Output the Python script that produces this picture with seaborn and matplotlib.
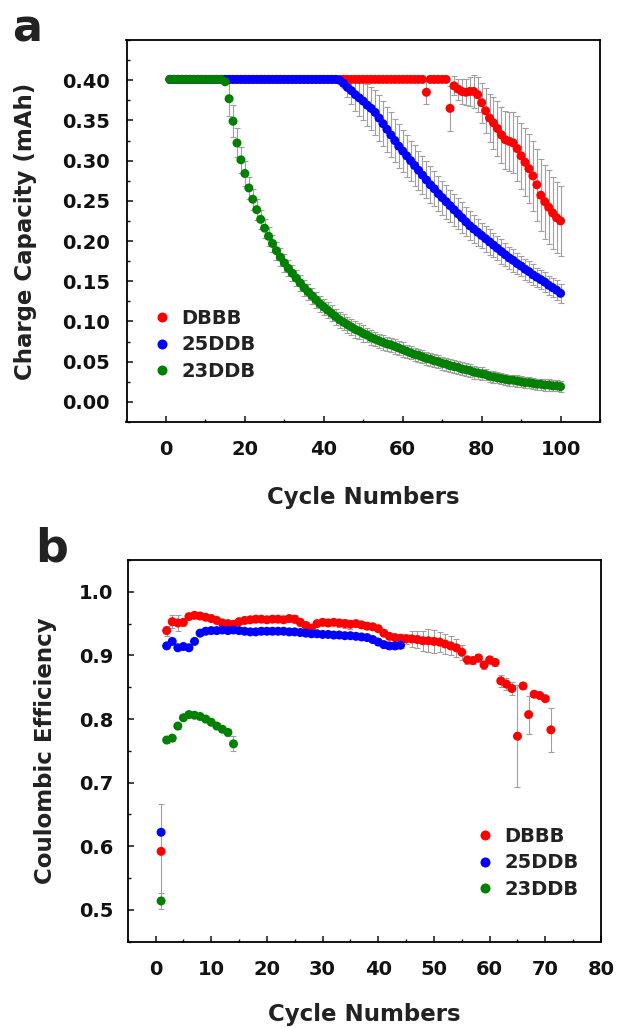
import matplotlib
matplotlib.use("Agg")
import matplotlib.pyplot as plt
import seaborn as sns
import pandas as pd
from matplotlib.ticker import MultipleLocator
from matplotlib.lines import Line2D

samples = ["DBBB", "25DDB", "23DDB"]
palette = {"DBBB": "#ff0000", "25DDB": "#0000ff", "23DDB": "#008000"}

# ---------------- panel a: charge capacity (mAh) ----------------
cycles_a = list(range(1, 101))

dbbb_cap = [
    0.401, 0.401, 0.401, 0.401, 0.401, 0.401, 0.401, 0.401, 0.401, 0.401,
    0.401, 0.401, 0.401, 0.401, 0.401, 0.401, 0.401, 0.401, 0.401, 0.401,
    0.401, 0.401, 0.401, 0.401, 0.401, 0.401, 0.401, 0.401, 0.401, 0.401,
    0.401, 0.401, 0.401, 0.401, 0.401, 0.401, 0.401, 0.401, 0.401, 0.401,
    0.401, 0.401, 0.401, 0.401, 0.401, 0.401, 0.401, 0.401, 0.401, 0.401,
    0.401, 0.401, 0.401, 0.401, 0.401, 0.401, 0.401, 0.401, 0.401, 0.401,
    0.401, 0.401, 0.401, 0.401, 0.401, 0.385, 0.401, 0.401, 0.401, 0.401,
    0.401, 0.365, 0.393, 0.389, 0.386, 0.385, 0.386, 0.386, 0.382, 0.372,
    0.362, 0.353, 0.347, 0.340, 0.332, 0.326, 0.324, 0.322, 0.315, 0.306,
    0.298, 0.290, 0.281, 0.270, 0.257, 0.249, 0.242, 0.235, 0.229, 0.225,
]
dbbb_err = [
    0, 0, 0, 0, 0, 0, 0, 0, 0, 0,
    0, 0, 0, 0, 0, 0, 0, 0, 0, 0,
    0, 0, 0, 0, 0, 0, 0, 0, 0, 0,
    0, 0, 0, 0, 0, 0, 0, 0, 0, 0,
    0, 0, 0, 0, 0, 0, 0, 0, 0, 0,
    0, 0, 0, 0, 0, 0, 0, 0, 0, 0,
    0, 0, 0, 0, 0, 0.015, 0, 0, 0, 0,
    0, 0.028, 0.012, 0.013, 0.015, 0.016, 0.018, 0.020, 0.022, 0.025,
    0.028, 0.030, 0.032, 0.034, 0.035, 0.036, 0.037, 0.038, 0.040, 0.041,
    0.042, 0.043, 0.044, 0.045, 0.045, 0.046, 0.046, 0.045, 0.044, 0.043,
]

ddb25_cap = [
    0.401, 0.401, 0.401, 0.401, 0.401, 0.401, 0.401, 0.401, 0.401, 0.401,
    0.401, 0.401, 0.401, 0.401, 0.401, 0.401, 0.401, 0.401, 0.401, 0.401,
    0.401, 0.401, 0.401, 0.401, 0.401, 0.401, 0.401, 0.401, 0.401, 0.401,
    0.401, 0.401, 0.401, 0.401, 0.401, 0.401, 0.401, 0.401, 0.401, 0.401,
    0.401, 0.401, 0.401, 0.400, 0.396, 0.391, 0.387, 0.382, 0.378, 0.374,
    0.369, 0.365, 0.360, 0.353, 0.346, 0.339, 0.332, 0.325, 0.318, 0.312,
    0.306, 0.300, 0.294, 0.288, 0.282, 0.276, 0.270, 0.265, 0.259, 0.254,
    0.249, 0.244, 0.239, 0.234, 0.229, 0.224, 0.219, 0.215, 0.211, 0.207,
    0.203, 0.199, 0.195, 0.191, 0.187, 0.183, 0.179, 0.176, 0.172, 0.169,
    0.165, 0.162, 0.158, 0.155, 0.152, 0.149, 0.145, 0.142, 0.139, 0.135,
]
ddb25_err = [
    0, 0, 0, 0, 0, 0, 0, 0, 0, 0,
    0, 0, 0, 0, 0, 0, 0, 0, 0, 0,
    0, 0, 0, 0, 0, 0, 0, 0, 0, 0,
    0, 0, 0, 0, 0, 0, 0, 0, 0, 0,
    0, 0, 0, 0, 0.006, 0.012, 0.016, 0.020, 0.022, 0.024,
    0.026, 0.027, 0.028, 0.028, 0.028, 0.028, 0.028, 0.027, 0.027, 0.026,
    0.026, 0.025, 0.025, 0.024, 0.024, 0.023, 0.023, 0.022, 0.022, 0.021,
    0.021, 0.020, 0.020, 0.019, 0.019, 0.018, 0.018, 0.017, 0.017, 0.016,
    0.016, 0.016, 0.015, 0.015, 0.015, 0.014, 0.014, 0.014, 0.013, 0.013,
    0.013, 0.013, 0.013, 0.012, 0.012, 0.012, 0.012, 0.012, 0.012, 0.012,
]

ddb23_cap = [
    0.401, 0.401, 0.401, 0.401, 0.401, 0.401, 0.401, 0.401, 0.401, 0.401,
    0.401, 0.401, 0.401, 0.401, 0.398, 0.377, 0.349, 0.322, 0.301, 0.284,
    0.266, 0.252, 0.239, 0.227, 0.216, 0.206, 0.197, 0.188, 0.180, 0.173,
    0.166, 0.160, 0.154, 0.148, 0.142, 0.137, 0.132, 0.127, 0.122, 0.118,
    0.114, 0.110, 0.106, 0.102, 0.099, 0.096, 0.093, 0.090, 0.088, 0.085,
    0.083, 0.080, 0.078, 0.076, 0.074, 0.072, 0.071, 0.069, 0.067, 0.065,
    0.063, 0.061, 0.059, 0.058, 0.056, 0.054, 0.053, 0.051, 0.050, 0.048,
    0.047, 0.045, 0.044, 0.043, 0.041, 0.040, 0.039, 0.037, 0.036, 0.035,
    0.034, 0.032, 0.031, 0.030, 0.029, 0.028, 0.027, 0.027, 0.026, 0.025,
    0.024, 0.024, 0.023, 0.022, 0.022, 0.021, 0.021, 0.020, 0.020, 0.019,
]
ddb23_err = [
    0, 0, 0, 0, 0, 0, 0, 0, 0, 0,
    0, 0, 0, 0, 0, 0.022, 0.020, 0.018, 0.016, 0.015,
    0.014, 0.013, 0.013, 0.012, 0.012, 0.012, 0.011, 0.011, 0.011, 0.011,
    0.010, 0.010, 0.010, 0.010, 0.010, 0.010, 0.010, 0.010, 0.010, 0.010,
    0.010, 0.010, 0.010, 0.010, 0.010, 0.010, 0.010, 0.010, 0.010, 0.010,
    0.009, 0.009, 0.009, 0.009, 0.009, 0.009, 0.009, 0.009, 0.009, 0.009,
    0.008, 0.008, 0.008, 0.008, 0.008, 0.008, 0.008, 0.008, 0.008, 0.008,
    0.008, 0.008, 0.008, 0.008, 0.008, 0.008, 0.008, 0.008, 0.008, 0.008,
    0.007, 0.007, 0.007, 0.007, 0.007, 0.007, 0.007, 0.007, 0.007, 0.007,
    0.007, 0.007, 0.007, 0.007, 0.007, 0.007, 0.007, 0.007, 0.007, 0.007,
]

# ---------------- panel b: coulombic efficiency ----------------
dbbb_ce = [
    0.592, 0.939, 0.953, 0.951, 0.952, 0.961, 0.963, 0.962, 0.960, 0.958,
    0.955, 0.951, 0.950, 0.949, 0.953, 0.955, 0.956, 0.957, 0.957, 0.956,
    0.957, 0.957, 0.956, 0.958, 0.957, 0.952, 0.947, 0.943, 0.950, 0.952,
    0.951, 0.952, 0.951, 0.950, 0.949, 0.950, 0.948, 0.946, 0.945, 0.942,
    0.935, 0.930, 0.928, 0.927, 0.926, 0.926, 0.925, 0.923, 0.923, 0.922,
    0.921, 0.918, 0.915, 0.912, 0.905, 0.893, 0.892, 0.896, 0.885, 0.893,
    0.889, 0.860, 0.855, 0.848, 0.773, 0.852, 0.807, 0.839, 0.837, 0.832,
    0.783,
]
dbbb_ce_err = [
    0.075, 0.008, 0.010, 0.012, 0.006, 0.004, 0.004, 0.004, 0.004, 0.004,
    0.004, 0.004, 0.004, 0.004, 0.004, 0.004, 0.004, 0.004, 0.004, 0.004,
    0.004, 0.004, 0.004, 0.006, 0.006, 0.006, 0.006, 0.006, 0.004, 0.004,
    0.004, 0.004, 0.007, 0.007, 0.007, 0.004, 0.004, 0.004, 0.004, 0.004,
    0.004, 0.004, 0.004, 0.006, 0.008, 0.012, 0.014, 0.016, 0.018, 0.018,
    0.016, 0.016, 0.015, 0.014, 0.012, 0.006, 0.006, 0.006, 0.006, 0.006,
    0.006, 0.010, 0.010, 0.010, 0.080, 0.004, 0.030, 0.004, 0.004, 0.004,
    0.035,
]

ddb25_ce = [
    0.622, 0.915, 0.922, 0.912, 0.914, 0.912, 0.922, 0.935, 0.938, 0.939,
    0.939, 0.940, 0.939, 0.940, 0.939, 0.938, 0.937, 0.937, 0.938, 0.938,
    0.938, 0.938, 0.938, 0.937, 0.937, 0.936, 0.935, 0.934, 0.934, 0.933,
    0.933, 0.932, 0.932, 0.931, 0.931, 0.930, 0.929, 0.928, 0.925, 0.921,
    0.917, 0.915, 0.915, 0.916,
]
ddb25_ce_err = [
    0.002, 0.004, 0.003, 0.003, 0.003, 0.003, 0.003, 0.003, 0.003, 0.003,
    0.003, 0.003, 0.003, 0.003, 0.003, 0.003, 0.003, 0.003, 0.003, 0.003,
    0.003, 0.003, 0.003, 0.003, 0.003, 0.003, 0.003, 0.003, 0.003, 0.003,
    0.003, 0.003, 0.003, 0.003, 0.003, 0.003, 0.003, 0.003, 0.004, 0.004,
    0.005, 0.005, 0.005, 0.005,
]

ddb23_ce = [
    0.514, 0.767, 0.770, 0.789, 0.802, 0.807, 0.806, 0.804, 0.800, 0.795,
    0.789, 0.784, 0.779, 0.761,
]
ddb23_ce_err = [
    0.013, 0.004, 0.004, 0.004, 0.004, 0.004, 0.004, 0.004, 0.004, 0.004,
    0.004, 0.004, 0.005, 0.012,
]


def long_frame(series):
    rows = []
    for name, vals, errs in series:
        for i, (v, e) in enumerate(zip(vals, errs)):
            rows.append({"cycle": i + 1, "value": v, "err": e, "sample": name})
    return pd.DataFrame(rows)


df_a = long_frame([("DBBB", dbbb_cap, dbbb_err),
                   ("25DDB", ddb25_cap, ddb25_err),
                   ("23DDB", ddb23_cap, ddb23_err)])
df_b = long_frame([("DBBB", dbbb_ce, dbbb_ce_err),
                   ("25DDB", ddb25_ce, ddb25_ce_err),
                   ("23DDB", ddb23_ce, ddb23_ce_err)])

sns.set_theme(style="ticks")
plt.rcParams["font.family"] = ["DejaVu Sans"]
plt.rcParams["font.weight"] = "bold"
plt.rcParams["axes.labelweight"] = "bold"
plt.rcParams["text.color"] = "#222222"
plt.rcParams["axes.labelcolor"] = "#222222"
plt.rcParams["xtick.color"] = "#111111"
plt.rcParams["ytick.color"] = "#111111"

W, H = 618, 1028
fig = plt.figure(figsize=(W / 100, H / 100), dpi=100)
ax_a = fig.add_axes([126.5 / W, 1 - 422 / H, (600 - 126.5) / W, (422 - 40) / H])
ax_b = fig.add_axes([127.7 / W, 1 - 941.7 / H, (601 - 127.7) / W, (941.7 - 560) / H])


def draw(ax, df):
    for name in samples:
        sub = df[(df["sample"] == name) & (df["err"] > 0)]
        if len(sub):
            _, caps, bars = ax.errorbar(sub["cycle"], sub["value"], yerr=sub["err"],
                                        fmt="none", ecolor="#a0a0a0", elinewidth=0.8,
                                        capsize=2.2, capthick=0.8, zorder=1)
            for c in caps:
                c.set_color("#444444")
    sns.scatterplot(data=df, x="cycle", y="value", hue="sample", hue_order=samples,
                    palette=palette, s=42, linewidth=0, edgecolor="none",
                    legend=False, ax=ax, zorder=3)


draw(ax_a, df_a)
draw(ax_b, df_b)

for ax in (ax_a, ax_b):
    for sp in ax.spines.values():
        sp.set_linewidth(1.3)
        sp.set_color("black")
    ax.tick_params(which="major", direction="in", length=4.5, width=1.1,
                   labelsize=14, top=False, right=False)
    ax.tick_params(which="minor", direction="in", length=2.5, width=1.0,
                   top=False, right=False)

ax_a.set_xlim(-10, 110)
ax_a.set_ylim(-0.025, 0.45)
ax_a.xaxis.set_minor_locator(MultipleLocator(10))
ax_a.yaxis.set_minor_locator(MultipleLocator(0.025))
ax_a.set_xticks([0, 20, 40, 60, 80, 100])
ax_a.set_yticks([0.0, 0.05, 0.10, 0.15, 0.20, 0.25, 0.30, 0.35, 0.40])
ax_a.set_yticklabels(["0.00", "0.05", "0.10", "0.15", "0.20", "0.25", "0.30", "0.35", "0.40"])
ax_a.tick_params(axis="y", pad=12)
ax_a.tick_params(axis="x", pad=13)
ax_a.set_xlabel("Cycle Numbers", fontsize=16.5, fontweight="bold")
ax_a.set_ylabel("Charge Capacity (mAh)", fontsize=16.5, fontweight="bold")
ax_a.yaxis.set_label_coords(-0.189, 0.5)
ax_a.xaxis.set_label_coords(0.5, -0.1675)

ax_b.set_xlim(-5, 80)
ax_b.set_ylim(0.45, 1.05)
ax_b.set_xticks([0, 10, 20, 30, 40, 50, 60, 70, 80])
ax_b.xaxis.set_minor_locator(MultipleLocator(5))
ax_b.set_yticks([0.5, 0.6, 0.7, 0.8, 0.9, 1.0])
ax_b.set_yticklabels(["0.5", "0.6", "0.7", "0.8", "0.9", "1.0"])
ax_b.yaxis.set_minor_locator(MultipleLocator(0.05))
ax_b.tick_params(axis="y", pad=10.5)
ax_b.tick_params(axis="x", pad=13)
ax_b.set_xlabel("Cycle Numbers", fontsize=16.5, fontweight="bold")
ax_b.set_ylabel("Coulombic Efficiency", fontsize=16.5, fontweight="bold")
ax_b.yaxis.set_label_coords(-0.149, 0.5)
ax_b.xaxis.set_label_coords(0.5, -0.1606)

handles = [Line2D([], [], ls="none", marker="o", ms=7.2, mfc=palette[s], mec="none")
           for s in samples]
leg_kw = dict(frameon=False, handlelength=0.8, handletextpad=0.6, labelspacing=0.4,
              borderpad=0, borderaxespad=0, loc="center left",
              prop={"weight": "bold", "size": 14}, bbox_transform=fig.transFigure)
ax_a.legend(handles, samples, bbox_to_anchor=(154 / W, 1 - 345 / H), **leg_kw)
ax_b.legend(handles, samples, bbox_to_anchor=(477 / W, 1 - 863 / H), **leg_kw)

fig.text(12 / W, 1 - 42 / H, "a", fontsize=32, fontweight="bold", ha="left", va="baseline")
fig.text(35 / W, 1 - 562 / H, "b", fontsize=33, fontweight="bold", ha="left", va="baseline")

fig.savefig("out.png", dpi=100)
